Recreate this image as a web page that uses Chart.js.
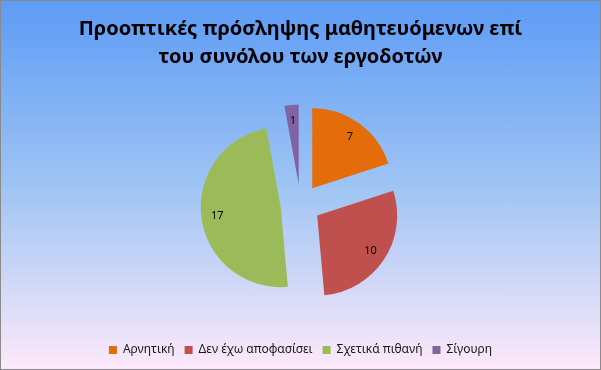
<!DOCTYPE html>
<html>
<head>
<meta charset="utf-8">
<script src="https://cdn.jsdelivr.net/npm/chart.js@4"></script>
<style>
  html, body { margin: 0; padding: 0; background: #fff; }
  #wrap {
    position: relative;
    width: 601px;
    height: 370px;
  }
  #chart {
    display: block;
    background: linear-gradient(to bottom, #5d9bf5 0%, #9ec4f4 50%, #fde9fa 100%);
    box-shadow: inset 0 0 0 1px #8a8a8a;
  }
</style>
</head>
<body>
<div id="wrap"><canvas id="chart" width="601" height="370"></canvas></div>
<script>
// Δεδομένα του γραφήματος
const titleLines = ['Προοπτικές πρόσληψης μαθητευόμενων επί', 'του συνόλου των εργοδοτών'];
const categories = ['Αρνητική', 'Δεν έχω αποφασίσει', 'Σχετικά πιθανή', 'Σίγουρη'];
const values = [7, 10, 17, 1];
const sliceColors = ['#e46c0a', '#c0504d', '#9bbb59', '#8064a2'];

const EXPLODE = 20;   // πόσο απομακρύνεται κάθε κομμάτι από το κέντρο
const FONT = '"Noto Sans", "DejaVu Sans", sans-serif';

// Μετακινεί κάθε κομμάτι της πίτας προς τα έξω (exploded pie)
const explodePlugin = {
  id: 'explode',
  afterUpdate(chart) {
    chart.getDatasetMeta(0).data.forEach(function(arc) {
      if (arc._exploded) return;
      const orig = arc.draw;
      arc.draw = function(ctx, area) {
        const mid = (this.startAngle + this.endAngle) / 2;
        ctx.save();
        ctx.translate(Math.cos(mid) * EXPLODE, Math.sin(mid) * EXPLODE);
        orig.call(this, ctx, area);
        ctx.restore();
      };
      arc._exploded = true;
    });
  }
};

// Ετικέτες τιμών πάνω στα κομμάτια
const valueLabels = {
  id: 'valueLabels',
  afterDatasetsDraw(chart) {
    const ctx = chart.ctx;
    const meta = chart.getDatasetMeta(0);
    ctx.save();
    ctx.font = '11px ' + FONT;
    ctx.fillStyle = '#000';
    ctx.textAlign = 'center';
    ctx.textBaseline = 'middle';
    meta.data.forEach(function(arc, i) {
      const mid = (arc.startAngle + arc.endAngle) / 2;
      const d = EXPLODE + arc.outerRadius * 0.8;
      ctx.fillText(String(values[i]), arc.x + Math.cos(mid) * d, arc.y + Math.sin(mid) * d);
    });
    ctx.restore();
  }
};

new Chart(document.getElementById('chart'), {
  type: 'pie',
  data: {
    labels: categories,
    datasets: [{
      data: values,
      backgroundColor: sliceColors,
      borderWidth: 0,
      hoverOffset: 0
    }]
  },
  options: {
    responsive: false,
    animation: false,
    radius: 80,
    layout: { padding: { top: 0, bottom: 4, left: 0, right: 0 } },
    plugins: {
      title: {
        display: true,
        text: titleLines,
        color: '#000',
        font: { family: FONT, size: 20, weight: 'bold', lineHeight: 1.4 },
        padding: { top: 15, bottom: 4 }
      },
      legend: {
        position: 'bottom',
        labels: {
          boxWidth: 8,
          boxHeight: 8,
          padding: 10,
          color: '#1a1a1a',
          font: { family: FONT, size: 12 }
        }
      },
      tooltip: { enabled: false }
    }
  },
  plugins: [explodePlugin, valueLabels]
});
</script>
</body>
</html>
